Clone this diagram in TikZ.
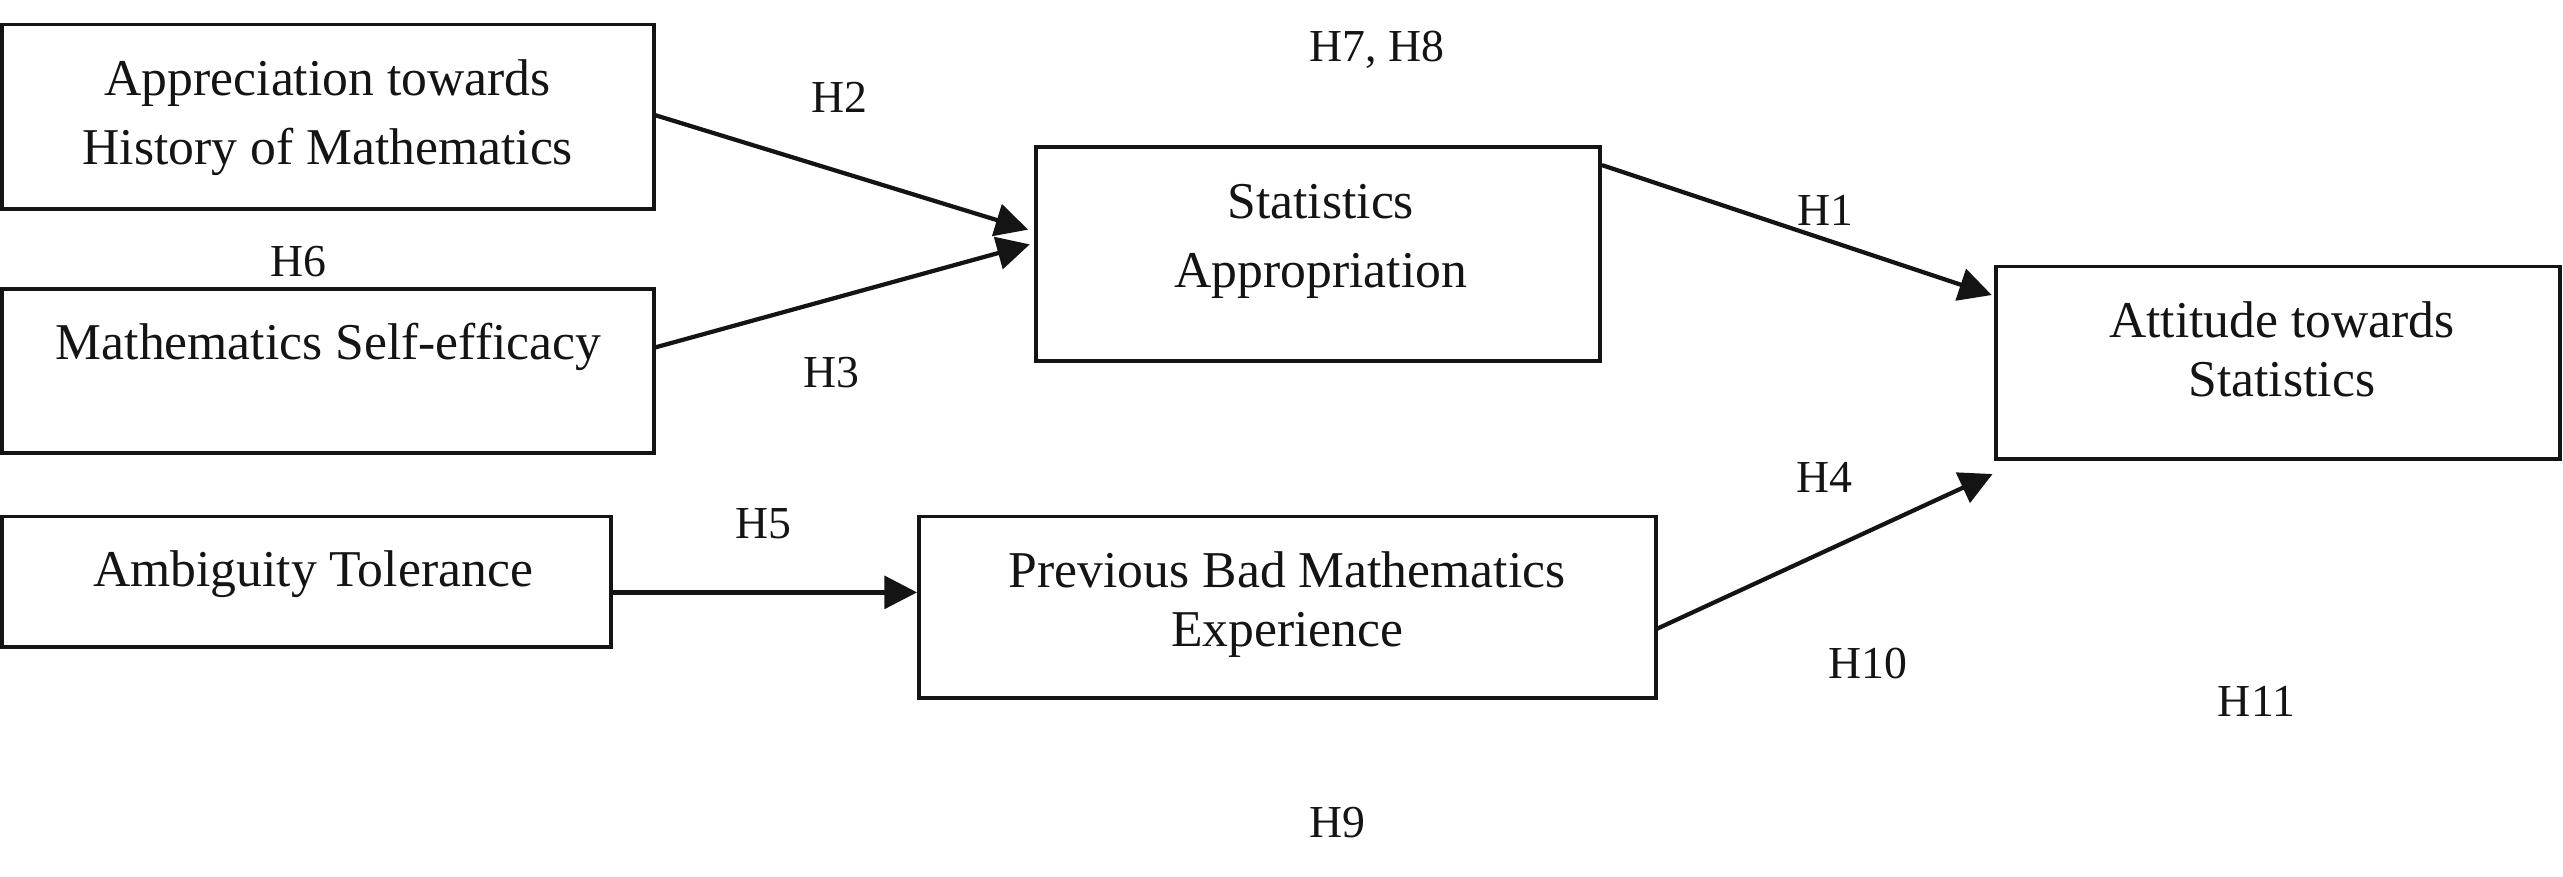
\documentclass[tikz,border=0pt]{standalone}
\usepackage{fontspec}
\setmainfont{Liberation Serif}
\usetikzlibrary{arrows.meta,calc}
\definecolor{ink}{HTML}{141414}
\begin{document}
\begin{tikzpicture}[x=0.5pt,y=-0.5pt,
  box/.style={draw=ink,line width=1.15pt,inner sep=0pt,outer sep=0pt},
  boxtext/.style={inner sep=0pt,align=center,text=ink,font=\fontsize{15.8}{21}\selectfont},
  boxtextb/.style={inner sep=0pt,align=center,text=ink,font=\fontsize{15.8}{18}\selectfont},
  hyp/.style={inner sep=0pt,text=ink,font=\fontsize{14}{16}\selectfont},
  arr/.style={draw=ink,line width=1.3pt,-{Triangle[length=10pt,width=10pt]}}]
\useasboundingbox (0,0) rectangle (1568,536.5);
% boxes
\node[box,minimum width=199.5pt,minimum height=56.5pt] (b1) at (200.5,71.5) {};
\node[box,minimum width=199.5pt,minimum height=50pt] (b2) at (200.5,227) {};
\node[box,minimum width=186.5pt,minimum height=40pt] (b3) at (187.5,356) {};
\node[box,minimum width=172.5pt,minimum height=65.5pt] (b4) at (806.5,155.5) {};
\node[box,minimum width=225.5pt,minimum height=55.5pt] (b5) at (787.5,371.5) {};
\node[box,minimum width=172.5pt,minimum height=59pt] (b6) at (1393.5,222) {};
% box texts
\node[boxtext] (t1) at (200.5,72) {Appreciation towards\\History of Mathematics};
\node[boxtext,anchor=base] (t2) at (201,220) {Mathematics Self-efficacy};
\node[boxtext,anchor=base] (t3) at (191.5,359) {Ambiguity Tolerance};
\node[boxtext] (t4) at (808,147.5) {Statistics\\Appropriation};
\node[boxtextb] (t5) at (787.5,370) {Previous Bad Mathematics\\Experience};
\node[boxtextb] (t6) at (1396,213.5) {Attitude towards\\Statistics};
% connector ends
\coordinate (s2) at ($(b1.east)+(1,-1)$);
\coordinate (e2) at ($(b4.west)+(-5,-15)$);
\coordinate (s3) at ($(b2.east)+(1,-14.5)$);
\coordinate (e3) at ($(b4.west)+(-4,-6)$);
\coordinate (s1) at ($(b4.north east)+(1,11)$);
\coordinate (e1) at ($(b6.west)+(-2.5,-41.5)$);
\coordinate (s5) at ($(b3.east)+(1,6.4)$);
\coordinate (e5) at ($(b5.west)+(-1,-9.1)$);
\coordinate (s4) at ($(b5.east)+(0,13.5)$);
\coordinate (e4) at ($(b6.south west)+(-2,9)$);
% connectors
\draw[arr] (s2) -- (e2);
\draw[arr] (s3) -- (e3);
\draw[arr] (s1) -- (e1);
\draw[arr] (s5) -- (e5);
\draw[arr] (s4) -- (e4);
% hypothesis labels
\node[hyp] (h2) at (513.5,59.5) {H2};
\node[hyp] (h78) at (842.5,30.5) {H7, H8};
\node[hyp] (h1) at (1117,128.5) {H1};
\node[hyp] (h6) at (182.5,160) {H6};
\node[hyp] (h3) at (508.5,228) {H3};
\node[hyp] (h4) at (1116,292) {H4};
\node[hyp] (h5) at (467,320.5) {H5};
\node[hyp] (h10) at (1142.5,406) {H10};
\node[hyp] (h11) at (1380.5,429) {H11};
\node[hyp] (h9) at (818,503) {H9};
\end{tikzpicture}
\end{document}
